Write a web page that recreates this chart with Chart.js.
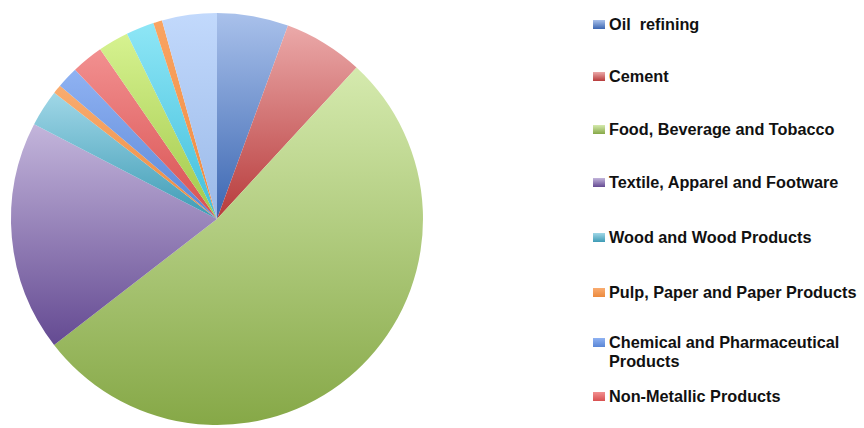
<!DOCTYPE html>
<html>
<head>
<meta charset="utf-8">
<script src="https://cdn.jsdelivr.net/npm/chart.js@4.4.0/dist/chart.umd.min.js"></script>
<style>
  html, body { margin: 0; padding: 0; background: #fff; }
  #wrap { position: relative; width: 864px; height: 428px; overflow: hidden; }
  #pieBox { position: absolute; left: 0; top: 0; width: 434px; height: 428px; }
  #legend { position: absolute; left: 593px; top: 0; font-family: "Liberation Sans", Arial, sans-serif;
            font-weight: bold; font-size: 16.25px; color: #111; }
  .item { position: absolute; left: 0; white-space: pre; line-height: 19px; }
  .item .box { position: absolute; left: 0; top: 5px; width: 12px; height: 9px; }
  .item .txt { position: absolute; left: 16px; top: 0; }
</style>
</head>
<body>
<div id="wrap">
  <div id="pieBox"><canvas id="pieChart"></canvas></div>
  <div id="legend"></div>
</div>
<script>
// 업종별 비중 (%)
var sectors = [
    'Oil  refining',
    'Cement',
    'Food, Beverage and Tobacco',
    'Textile, Apparel and Footware',
    'Wood and Wood Products',
    'Pulp, Paper and Paper Products',
    'Chemical and Pharmaceutical\nProducts',
    'Non-Metallic Products',
    'Basic Metals',
    'Machinery and Equipment',
    'Furniture',
    'Others'
];
var shares = [5.6, 6.25, 52.7, 18.1, 2.9, 0.7, 1.7, 2.5, 2.4, 2.2, 0.7, 4.3];

// 색상 (위 -> 아래 그라데이션)
var topColors = ['#a9c1eb', '#eba9a9', '#d5eaae', '#c3b5db', '#a0d7e7', '#f9ac70', '#8fb2f2', '#f29090', '#d6f290', '#8ee6f6', '#f9a462', '#c2d9fc'];
var bottomColors = ['#3b66b1', '#b73b3b', '#86a847', '#644a92', '#3e9bb5', '#ec8a3e', '#5a86d6', '#d85050', '#a2c84a', '#40bedb', '#f08a40', '#9ab9e8'];
var legendCount = 8;
var legendY = [25, 77, 130, 183, 238, 293, 343, 397];

function sliceFill(c) {
    var chart = c.chart;
    var area = chart.chartArea;
    var i = c.dataIndex;
    if (!area) return topColors[i];
    var cx = (area.left + area.right) / 2;
    var cy = (area.top + area.bottom) / 2;
    var r = Math.min(area.right - area.left, area.bottom - area.top) / 2;
    var total = shares.reduce(function(a, b) { return a + b; }, 0);
    var start = -Math.PI / 2;
    for (var k = 0; k < i; k++) start += shares[k] / total * 2 * Math.PI;
    var end = start + shares[i] / total * 2 * Math.PI;
    var ys = [cy];
    for (var s = 0; s <= 30; s++) {
        var a = start + (end - start) * s / 30;
        ys.push(cy + r * Math.sin(a));
    }
    var y0 = Math.min.apply(null, ys), y1 = Math.max.apply(null, ys);
    if (y1 - y0 < 1) y1 = y0 + 1;
    var g = chart.ctx.createLinearGradient(0, y0, 0, y1);
    g.addColorStop(0, topColors[i]);
    g.addColorStop(1, bottomColors[i]);
    return g;
}

var ctx = document.getElementById('pieChart').getContext('2d');
new Chart(ctx, {
    type: 'pie',
    data: {
        labels: sectors,
        datasets: [{
            data: shares,
            backgroundColor: sliceFill,
            borderWidth: 0
        }]
    },
    options: {
        responsive: true,
        maintainAspectRatio: false,
        animation: false,
        layout: { padding: { top: 13, bottom: 3, left: 0, right: 0 } },
        plugins: {
            legend: { display: false },
            tooltip: { enabled: false }
        }
    }
});

// 범례 (앞 8개만)
var legend = document.getElementById('legend');
for (var n = 0; n < legendCount; n++) {
    var item = document.createElement('div');
    item.className = 'item';
    item.style.top = (legendY[n] - 10) + 'px';
    var box = document.createElement('span');
    box.className = 'box';
    box.style.background = 'linear-gradient(' + topColors[n] + ', ' + bottomColors[n] + ')';
    var txt = document.createElement('span');
    txt.className = 'txt';
    txt.textContent = sectors[n];
    item.appendChild(box);
    item.appendChild(txt);
    legend.appendChild(item);
}
</script>
</body>
</html>
